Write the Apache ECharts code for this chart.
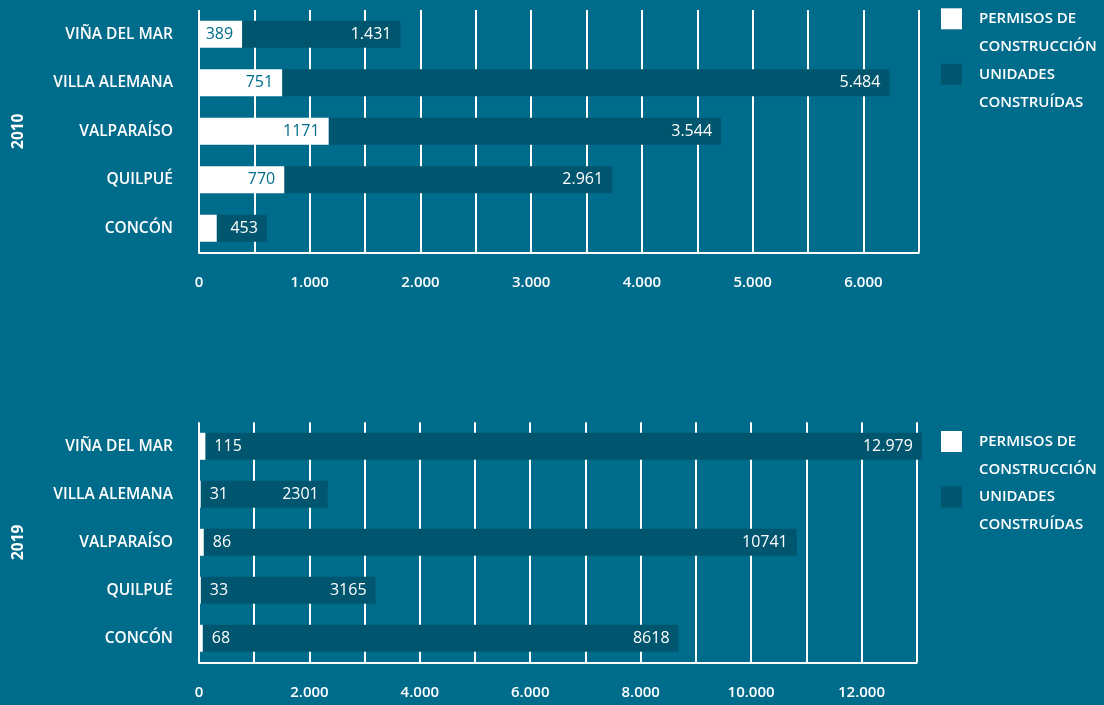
<!DOCTYPE html>
<html><head><meta charset="utf-8">
<script src="https://cdn.jsdelivr.net/npm/echarts@6/dist/echarts.min.js"></script>
<style>html,body{margin:0;padding:0;background:#006c8c;}#c{width:1104px;height:705px;}</style>
</head><body><div id="c"></div>
<script>
const categories = ['VIÑA DEL MAR', 'VILLA ALEMANA', 'VALPARAÍSO', 'QUILPUÉ', 'CONCÓN'];
const seriesNames = ['PERMISOS DE\nCONSTRUCCIÓN', 'UNIDADES\nCONSTRUÍDAS'];
const years = ['2010', '2019'];

const permisos2010 = [389, 751, 1171, 770, 160];
const permisos2010Labels = ['389', '751', '1171', '770', ''];
const unidades2010 = [1431, 5484, 3544, 2961, 453];
const unidades2010Labels = ['1.431', '5.484', '3.544', '2.961', '453'];

const permisos2019 = [115, 31, 86, 33, 68];
const permisos2019Labels = ['115', '31', '86', '33', '68'];
const unidades2019 = [12979, 2301, 10741, 3165, 8618];
const unidades2019Labels = ['12.979', '2301', '10741', '3165', '8618'];

const xTickLabels2010 = ['0', '1.000', '2.000', '3.000', '4.000', '5.000', '6.000'];
const xTickLabels2019 = ['0', '2.000', '4.000', '6.000', '8.000', '10.000', '12.000'];

const BG = '#006c8c';
const DARK = '#00566f';
const FONT = 'Open Sans';

function xAxisCfg(gridIndex, max, interval, labelStep, labels) {
  return {
    type: 'value', gridIndex: gridIndex, min: 0, max: max, interval: interval,
    axisLine: { show: true, lineStyle: { color: '#fff', width: 2 } },
    axisTick: { show: false },
    splitLine: { show: true, lineStyle: { color: '#fff', width: 2 } },
    axisLabel: {
      color: '#fff', fontFamily: FONT, fontSize: 15, fontWeight: 600, margin: 23,
      formatter: function (v) { return (v % labelStep === 0) ? (labels[v / labelStep] || '') : ''; }
    }
  };
}
function yAxisCfg(gridIndex, name) {
  return {
    type: 'category', gridIndex: gridIndex, data: categories, inverse: true,
    axisLine: { show: false }, axisTick: { show: false },
    axisLabel: { color: '#fff', fontFamily: FONT, fontSize: 15.5, fontWeight: 600, margin: 26 },
    name: name, nameLocation: 'middle', nameRotate: 90, nameGap: 172,
    nameTextStyle: { color: '#fff', fontFamily: FONT, fontSize: 15.5, fontWeight: 700 }
  };
}
function seriesPair(idx, perm, permLabels, unid, unidLabels, permPos) {
  return [
    {
      name: seriesNames[0], type: 'bar', stack: 's' + idx, xAxisIndex: idx, yAxisIndex: idx,
      data: perm, barWidth: 27, z: 3, clip: false,
      itemStyle: { color: '#ffffff' },
      label: {
        show: true, position: permPos, distance: 9,
        color: permPos === 'insideRight' ? BG : '#fff',
        fontFamily: FONT, fontSize: 16,
        formatter: function (p) { return permLabels[p.dataIndex]; }
      }
    },
    {
      name: seriesNames[1], type: 'bar', stack: 's' + idx, xAxisIndex: idx, yAxisIndex: idx,
      data: unid, barWidth: 27, clip: false,
      itemStyle: { color: DARK },
      label: {
        show: true, position: 'insideRight', distance: 9, color: '#fff',
        fontFamily: FONT, fontSize: 16,
        formatter: function (p) { return unidLabels[p.dataIndex]; }
      }
    }
  ];
}
function legendCfg(top) {
  return {
    data: seriesNames, orient: 'vertical', left: 941, top: top, padding: 0,
    itemWidth: 21, itemHeight: 21, itemGap: -28.5, icon: 'rect',
    selectedMode: false,
    formatter: function (name) { return ' \n' + name; },
    textStyle: { color: '#fff', fontFamily: FONT, fontSize: 15, fontWeight: 600, lineHeight: 28, padding: [0, 0, 0, 12] }
  };
}

const chart = echarts.init(document.getElementById('c'));
chart.setOption({
  backgroundColor: BG,
  animation: false,
  legend: [legendCfg(-23.2), legendCfg(399.5)],
  grid: [
    { left: 199, top: 10, width: 719.7, height: 242.5 },
    { left: 199, top: 422.3, width: 717.7, height: 240 }
  ],
  xAxis: [
    xAxisCfg(0, 6500, 500, 1000, xTickLabels2010),
    xAxisCfg(1, 13000, 1000, 2000, xTickLabels2019)
  ],
  yAxis: [yAxisCfg(0, years[0]), yAxisCfg(1, years[1])],
  series: [].concat(
    seriesPair(0, permisos2010, permisos2010Labels, unidades2010, unidades2010Labels, 'insideRight'),
    seriesPair(1, permisos2019, permisos2019Labels, unidades2019, unidades2019Labels, 'right')
  )
});
</script></body></html>
